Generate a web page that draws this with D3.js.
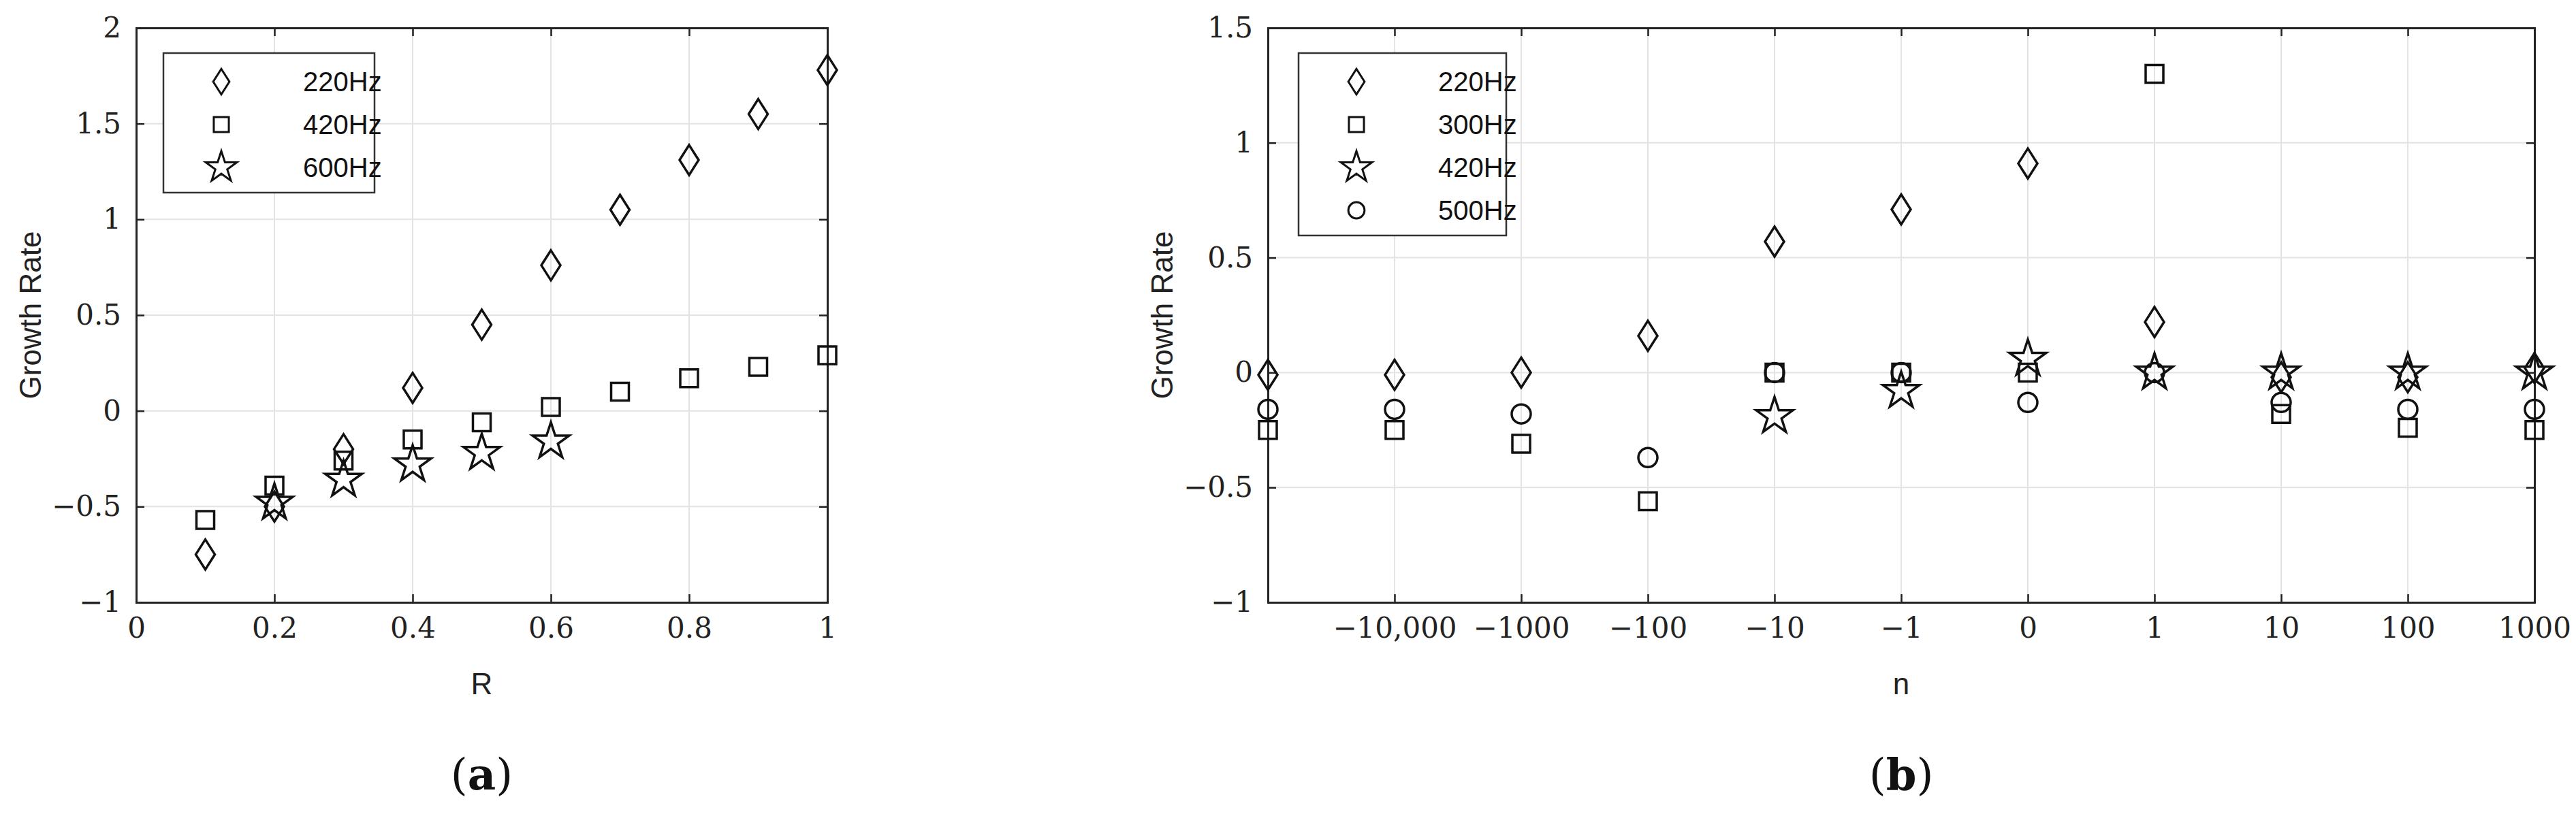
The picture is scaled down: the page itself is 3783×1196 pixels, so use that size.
<!DOCTYPE html>
<html><head><meta charset="utf-8">
<script src="https://cdn.jsdelivr.net/npm/d3@7"></script>
<style>body{margin:0;background:#fff}</style>
</head><body>
<svg width="3783" height="1196"></svg>
<script>
// panel (a)
let rValues = [0.1, 0.2, 0.3, 0.4, 0.5, 0.6, 0.7, 0.8, 0.9, 1.0]
let a220 = [-0.75, -0.5, -0.2, 0.12, 0.45, 0.76, 1.05, 1.31, 1.55, 1.78]
let a420 = [-0.57, -0.39, -0.26, -0.15, -0.06, 0.02, 0.1, 0.17, 0.23, 0.29]
let a600 = [null, -0.48, -0.36, -0.28, -0.22, -0.16, null, null, null, null]

// panel (b)
let nLabels = ['', '\u221210,000', '\u22121000', '\u2212100', '\u221210', '\u22121', '0', '1', '10', '100', '1000']
let b220 = [-0.01, -0.01, 0, 0.16, 0.57, 0.71, 0.91, 0.22, -0.02, -0.02, 0.02]
let b300 = [-0.25, -0.25, -0.31, -0.56, 0, 0, 0, 1.3, -0.18, -0.24, -0.25]
let b420 = [null, null, null, null, -0.19, -0.08, 0.06, 0, 0, 0, 0]
let b500 = [-0.16, -0.16, -0.18, -0.37, 0, 0, -0.13, 0, -0.13, -0.16, -0.16]

let svg = d3.select('svg')
let serif = '"DejaVu Serif", "Liberation Serif", serif'
let sans = '"Liberation Sans", Arial, sans-serif'

let shapes = {
    diamond: 'M0,-22L14,0L0,22L-14,0Z',
    square: 'M-13,-13H13V13H-13Z',
    star: d3.symbol().type(d3.symbolStar).size(900)(),
    circle: 'M14,0A14,14 0 1,1 -14,0A14,14 0 1,1 14,0Z'
}

function panel(o) {
    let g = svg.append('g')
    let x = o.x, y = o.y
    let w = o.right - o.left, h = o.bottom - o.top
    g.attr('transform', 'translate(' + o.left + ',' + o.top + ')')

    let yTicks = o.yTicks
    g.selectAll('line.gy').data(yTicks).enter().append('line')
        .attr('x1', 0).attr('x2', w).attr('y1', d => y(d)).attr('y2', d => y(d))
        .attr('stroke', '#e3e3e3').attr('stroke-width', 2)
    g.selectAll('line.gx').data(o.xTicks).enter().append('line')
        .attr('y1', 0).attr('y2', h).attr('x1', d => x(d)).attr('x2', d => x(d))
        .attr('stroke', '#e3e3e3').attr('stroke-width', 2)

    let ax = d3.axisBottom(x).tickValues(o.xTicks).tickSize(-12).tickPadding(22).tickFormat(o.xFmt)
    let ax2 = d3.axisTop(x).tickValues(o.xTicks).tickSize(-12).tickFormat('')
    let ay = d3.axisLeft(y).tickValues(yTicks).tickSize(-12).tickPadding(22).tickFormat(o.yFmt)
    let ay2 = d3.axisRight(y).tickValues(yTicks).tickSize(-12).tickFormat('')
    ;[g.append('g').attr('transform', 'translate(0,' + h + ')').call(ax),
     g.append('g').call(ax2),
     g.append('g').call(ay),
     g.append('g').attr('transform', 'translate(' + w + ',0)').call(ay2)].forEach(s => {
        s.selectAll('path').attr('stroke', '#222').attr('stroke-width', 3)
        s.selectAll('line').attr('stroke', '#222').attr('stroke-width', 2.5)
        s.selectAll('text').attr('font-family', serif).attr('font-size', 42).attr('fill', '#222')
    })

    o.series.forEach(s => {
        g.selectAll(null).data(s.values.map((v, i) => [o.cats[i], v]).filter(d => d[1] !== null))
            .enter().append('path')
            .attr('d', shapes[s.shape])
            .attr('transform', d => 'translate(' + x(d[0]) + ',' + y(d[1]) + ')')
            .attr('fill', 'none').attr('stroke', '#111').attr('stroke-width', 3.5)
    })

    // legend
    let lg = g.append('g').attr('transform', 'translate(' + o.legend[0] + ',' + o.legend[1] + ')')
    lg.append('rect').attr('width', o.legend[2]).attr('height', o.series.length * 63 + 16)
        .attr('fill', '#fff').attr('stroke', '#333').attr('stroke-width', 2.5)
    o.series.forEach((s, i) => {
        lg.append('path').attr('d', shapes[s.shape])
            .attr('transform', 'translate(' + o.legend[3] + ',' + (42 + i * 63) + ') scale(0.85)')
            .attr('fill', 'none').attr('stroke', '#111').attr('stroke-width', 3.5)
        lg.append('text').text(s.name).attr('x', o.legend[4]).attr('y', 42 + i * 63).attr('dy', '0.36em')
            .attr('font-family', sans).attr('font-size', 40).attr('fill', '#111')
    })

    g.append('text').text('Growth Rate').attr('transform', 'translate(-140,' + h / 2 + ') rotate(-90)')
        .attr('text-anchor', 'middle').attr('font-family', sans).attr('font-size', 44).attr('fill', '#222')
    g.append('text').text(o.xLabel).attr('x', w / 2).attr('y', h + 135)
        .attr('text-anchor', 'middle').attr('font-family', sans).attr('font-size', 44).attr('fill', '#222')
    let cap = g.append('text').attr('x', w / 2).attr('y', h + 275)
        .attr('text-anchor', 'middle').attr('font-family', serif).attr('font-size', 64).attr('fill', '#111')
    cap.append('tspan').text('(')
    cap.append('tspan').text(o.cap).attr('font-weight', 'bold')
    cap.append('tspan').text(')')
}

let aL = 200, aR = 1215, plotTop = 41, plotBottom = 885
panel({
    left: aL, right: aR, top: plotTop, bottom: plotBottom,
    x: d3.scaleLinear().domain([0, 1]).range([0, aR - aL]),
    y: d3.scaleLinear().domain([-1, 2]).range([plotBottom - plotTop, 0]),
    xTicks: [0, 0.2, 0.4, 0.6, 0.8, 1], yTicks: [-1, -0.5, 0, 0.5, 1, 1.5, 2],
    xFmt: d => String(d),
    yFmt: d => String(d).replace('-', '\u2212'),
    cats: rValues,
    series: [{name: '220Hz', shape: 'diamond', values: a220},
             {name: '420Hz', shape: 'square', values: a420},
             {name: '600Hz', shape: 'star', values: a600}],
    legend: [40, 37, 310, 85, 205],
    xLabel: 'R', cap: 'a'
})

let bL = 1862, bR = 3722
panel({
    left: bL, right: bR, top: plotTop, bottom: plotBottom,
    x: d3.scalePoint().domain(d3.range(nLabels.length)).range([0, bR - bL]),
    y: d3.scaleLinear().domain([-1, 1.5]).range([plotBottom - plotTop, 0]),
    xTicks: d3.range(nLabels.length), yTicks: [-1, -0.5, 0, 0.5, 1, 1.5],
    xFmt: i => nLabels[i],
    yFmt: d => String(d).replace('-', '\u2212'),
    cats: d3.range(nLabels.length),
    series: [{name: '220Hz', shape: 'diamond', values: b220},
             {name: '300Hz', shape: 'square', values: b300},
             {name: '420Hz', shape: 'star', values: b420},
             {name: '500Hz', shape: 'circle', values: b500}],
    legend: [45, 37, 305, 85, 205],
    xLabel: 'n', cap: 'b'
})
</script>
</body></html>
